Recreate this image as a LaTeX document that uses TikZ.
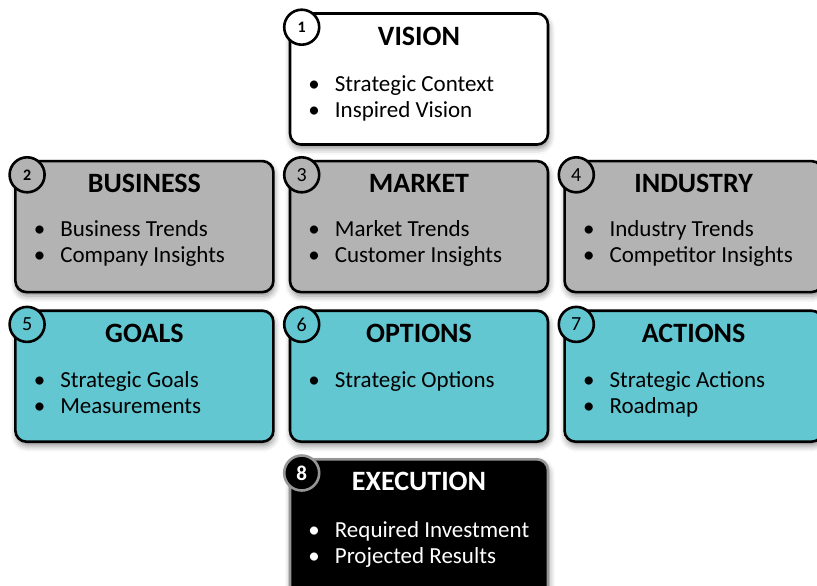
\documentclass[tikz,border=0pt]{standalone}
\usepackage{fontspec}
\setmainfont{Carlito}
\usetikzlibrary{positioning,shadows.blur}

\definecolor{cardgray}{RGB}{179,179,179}
\definecolor{cardteal}{RGB}{99,199,210}
\definecolor{cardrim}{RGB}{150,150,150}

\tikzset{
  card/.style={draw=black, line width=2.6pt, rounded corners=11pt,
    minimum width=258pt, minimum height=131pt, inner sep=0pt,
    blur shadow={shadow xshift=1pt, shadow yshift=-4pt,
      shadow blur radius=6pt, shadow opacity=45}},
  badge/.style={circle, draw=black, line width=2.6pt, minimum size=35pt,
    inner sep=0pt, font=\fontsize{20}{20}\selectfont},
  heading/.style={anchor=base, inner sep=0pt,
    font=\fontsize{28}{28}\selectfont\bfseries},
  points/.style={anchor=north west, inner sep=0pt, align=left,
    font=\fontsize{23}{26}\selectfont},
}
\newcommand\dotitem{\strut\llap{\textbullet\hspace{15pt}}}

\begin{document}
\begin{tikzpicture}[x=1pt, y=1pt, node distance=14pt]
\useasboundingbox (0,0) rectangle (817,-586);

% the eight cards
\node[card, fill=white] (vis) at (419,-79) {};
\node[card, fill=cardgray, below=of vis] (mkt) {};
\node[card, fill=cardgray, left=of mkt] (bus) {};
\node[card, fill=cardgray, right=of mkt] (ind) {};
\node[card, fill=cardteal, below=16pt of bus] (goa) {};
\node[card, fill=cardteal, below=16pt of mkt] (opt) {};
\node[card, fill=cardteal, below=16pt of ind] (act) {};
\node[card, fill=black, draw=cardrim, minimum height=145pt, below=15pt of opt] (exe) {};

% headings
\foreach \c/\t in {vis/VISION, bus/BUSINESS, mkt/MARKET, ind/INDUSTRY,
    goa/GOALS, opt/OPTIONS, act/ACTIONS}
  \node[heading] (\c-head) at ([yshift=-33pt]\c.north) {\t};
\node[heading, text=white] (exe-head) at ([yshift=-32pt]exe.north) {EXECUTION};

% bullet points
\node[points] (vis-pts) at ([xshift=46pt,yshift=-61pt]vis.north west)
  {\dotitem Strategic Context\\\dotitem Inspired Vision};
\node[points] (bus-pts) at ([xshift=46pt,yshift=-58pt]bus.north west)
  {\dotitem Business Trends\\\dotitem Company Insights};
\node[points] (mkt-pts) at ([xshift=46pt,yshift=-58pt]mkt.north west)
  {\dotitem Market Trends\\\dotitem Customer Insights};
\node[points] (ind-pts) at ([xshift=46pt,yshift=-58pt]ind.north west)
  {\dotitem Industry Trends\\\dotitem Competitor Insights};
\node[points] (goa-pts) at ([xshift=46pt,yshift=-60pt]goa.north west)
  {\dotitem Strategic Goals\\\dotitem Measurements};
\node[points] (opt-pts) at ([xshift=46pt,yshift=-60pt]opt.north west)
  {\dotitem Strategic Options};
\node[points] (act-pts) at ([xshift=46pt,yshift=-60pt]act.north west)
  {\dotitem Strategic Actions\\\dotitem Roadmap};
\node[points, text=white] (exe-pts) at ([xshift=46pt,yshift=-61pt]exe.north west)
  {\dotitem Required Investment\\\dotitem Projected Results};

% number badges
\node[badge, fill=white, font=\fontsize{16}{16}\selectfont\bfseries]
  (vis-num) at ([xshift=13pt,yshift=-15pt]vis.north west) {1};
\node[badge, fill=cardgray, font=\fontsize{16}{16}\selectfont\bfseries]
  (bus-num) at ([xshift=13pt,yshift=-15pt]bus.north west) {2};
\node[badge, fill=cardgray] (mkt-num) at ([xshift=13pt,yshift=-15pt]mkt.north west) {3};
\node[badge, fill=cardgray] (ind-num) at ([xshift=13pt,yshift=-15pt]ind.north west) {4};
\node[badge, fill=cardteal] (goa-num) at ([xshift=13pt,yshift=-15pt]goa.north west) {5};
\node[badge, fill=cardteal] (opt-num) at ([xshift=13pt,yshift=-15pt]opt.north west) {6};
\node[badge, fill=cardteal] (act-num) at ([xshift=13pt,yshift=-15pt]act.north west) {7};
\node[badge, fill=black, draw=cardrim, text=white, font=\fontsize{21}{21}\selectfont\bfseries]
  (exe-num) at ([xshift=13pt,yshift=-15pt]exe.north west) {8};
\end{tikzpicture}
\end{document}
